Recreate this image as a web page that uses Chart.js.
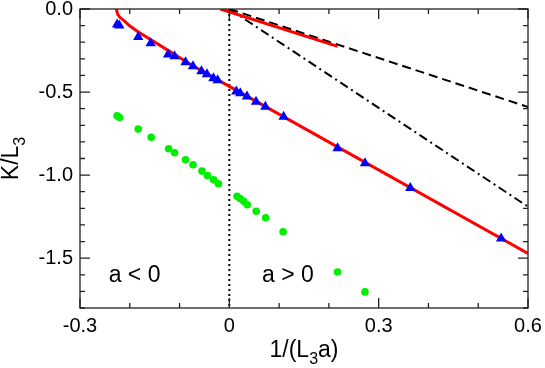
<!DOCTYPE html>
<html>
<head>
<meta charset="utf-8">
<script src="https://cdn.jsdelivr.net/npm/chart.js@4"></script>
<style>
html,body{margin:0;padding:0;background:#fff;}
canvas{display:block;}
</style>
</head>
<body>
<canvas id="c" width="545" height="368"></canvas>
<script>
// ---- data ----
const triX = [-0.2255,-0.221,-0.183,-0.158,-0.123,-0.110,-0.088,-0.073,-0.056,-0.045,-0.032,-0.0235,0.014,0.022,0.0355,0.0536,0.0723,0.109,0.2175,0.2725,0.3635,0.546];
const triY = [-0.094,-0.100,-0.168,-0.206,-0.274,-0.284,-0.320,-0.344,-0.374,-0.393,-0.417,-0.429,-0.496,-0.507,-0.527,-0.559,-0.589,-0.649,-0.838,-0.928,-1.078,-1.381];
const dotX = [-0.2255,-0.2205,-0.183,-0.157,-0.122,-0.110,-0.088,-0.073,-0.055,-0.044,-0.0315,-0.022,0.0155,0.022,0.029,0.036,0.054,0.073,0.108,0.2175,0.2725];
const dotY = [-0.643,-0.653,-0.723,-0.772,-0.841,-0.865,-0.908,-0.938,-0.976,-1.002,-1.028,-1.052,-1.128,-1.142,-1.158,-1.178,-1.218,-1.257,-1.341,-1.583,-1.703];
const curveX = [-0.227,-0.2245,-0.22,-0.21,-0.199,-0.182,-0.155,-0.12,-0.08,-0.04,0,0.6];
const curveY = [0.0,-0.03,-0.05,-0.075,-0.104,-0.14,-0.19,-0.255,-0.33,-0.398,-0.466,-1.471];
const shortX = [-0.018,0.2175];
const shortY = [0.0,-0.225];
const dashX = [0,0.6];
const dashY = [0,-0.59];
const dashDotX = [0,0.6];
const dashDotY = [0,-1.19];
const zeroX = [0,0];
const zeroY = [0,-1.8];
const xTickLabels = ['-0.3','0','0.3','0.6'];
const yTickLabels = ['0.0','-0.5','-1.0','-1.5'];
const annotations = [{text:'a < 0', x:-0.2424, y:-1.641},{text:'a > 0', x:0.0657, y:-1.641}];

const pts = (xs, ys) => xs.map((x,i)=>({x, y: ys[i]}));
const FONT = '"Liberation Sans", Arial, Helvetica, sans-serif';
Chart.defaults.font.family = FONT;
Chart.defaults.color = '#000';

const near = (v, step) => Math.abs(v/step - Math.round(v/step)) < 1e-6;

const framePlugin = {
  id: 'frame',
  afterDatasetsDraw(chart) {
    const {ctx, chartArea: a, scales: {x, y}} = chart;
    ctx.save();
    ctx.strokeStyle = '#222';
    ctx.lineWidth = 1.3;
    ctx.strokeRect(a.left, a.top, a.right - a.left, a.bottom - a.top);
    ctx.beginPath();
    x.ticks.forEach(t => {
      const px = x.getPixelForValue(t.value);
      const len = near(t.value, 0.3) ? 10 : 5;
      ctx.moveTo(px, a.bottom); ctx.lineTo(px, a.bottom - len);
      ctx.moveTo(px, a.top); ctx.lineTo(px, a.top + len);
    });
    y.ticks.forEach(t => {
      const py = y.getPixelForValue(t.value);
      const len = near(t.value, 0.5) ? 10 : 5;
      ctx.moveTo(a.left, py); ctx.lineTo(a.left + len, py);
      ctx.moveTo(a.right, py); ctx.lineTo(a.right - len, py);
    });
    ctx.stroke();
    // annotations
    ctx.fillStyle = '#000';
    ctx.font = '23px ' + FONT;
    ctx.textBaseline = 'alphabetic';
    ctx.textAlign = 'left';
    annotations.forEach(n => {
      ctx.fillText(n.text, x.getPixelForValue(n.x), y.getPixelForValue(n.y));
    });
    // axis titles with subscripts
    const drawSub = (parts, cx, base) => {
      let w = 0;
      parts.forEach(p => { ctx.font = (p.sub ? '16px ' : '23px ') + FONT; w += ctx.measureText(p.t).width; });
      let cur = cx - w / 2;
      parts.forEach(p => {
        ctx.font = (p.sub ? '16px ' : '23px ') + FONT;
        ctx.fillText(p.t, cur, base + (p.sub ? 7 : 0));
        cur += ctx.measureText(p.t).width;
      });
    };
    drawSub([{t:'1/(L'},{t:'3',sub:true},{t:'a)'}], (a.left + a.right) / 2, 357);
    ctx.save();
    ctx.translate(18, (a.top + a.bottom) / 2);
    ctx.rotate(-Math.PI / 2);
    drawSub([{t:'K/L'},{t:'3',sub:true}], 0, 0);
    ctx.restore();
    ctx.restore();
  }
};

const lineDs = (data, color, width, dash) => ({
  type: 'scatter', data, showLine: true, borderColor: color, backgroundColor: color,
  borderWidth: width, borderDash: dash, pointRadius: 0, pointHoverRadius: 0, tension: 0
});

new Chart(document.getElementById('c'), {
  type: 'scatter',
  data: {
    datasets: [
      { data: pts(triX, triY), pointStyle: 'triangle', pointRadius: 6, pointBorderWidth: 0,
        backgroundColor: '#0000ff', borderColor: '#0000ff', showLine: false },
      { data: pts(dotX, dotY), pointStyle: 'circle', pointRadius: 3.8, pointBorderWidth: 0,
        backgroundColor: '#00ee00', borderColor: '#00ee00', showLine: false },
      lineDs(pts(curveX, curveY), '#ff0000', 3, []),
      lineDs(pts(shortX, shortY), '#ff0000', 3, []),
      lineDs(pts(dashX, dashY), '#000', 2, [9, 5]),
      lineDs(pts(dashDotX, dashDotY), '#000', 2, [9, 4, 2, 4]),
      lineDs(pts(zeroX, zeroY), '#000', 2, [2, 3])
    ]
  },
  options: {
    responsive: false,
    animation: false,
    devicePixelRatio: 1,
    layout: { padding: { top: 9, right: 17, left: 0, bottom: 0 } },
    plugins: { legend: { display: false }, tooltip: { enabled: false } },
    events: [],
    scales: {
      x: {
        type: 'linear', min: -0.3, max: 0.6,
        grid: { display: false, drawTicks: false }, border: { display: false },
        ticks: {
          stepSize: 0.1, autoSkip: false, maxRotation: 0, padding: 6,
          font: { size: 20 },
          callback: v => near(v, 0.3) ? xTickLabels[Math.round((v + 0.3) / 0.3)] : ''
        },
        afterFit: s => { s.height = 60; s.paddingLeft = 0; s.paddingRight = 0; }
      },
      y: {
        type: 'linear', min: -1.8, max: 0,
        grid: { display: false, drawTicks: false }, border: { display: false },
        ticks: {
          stepSize: 0.1, autoSkip: false, padding: 7,
          font: { size: 20 },
          callback: v => (near(v, 0.5) && Math.round(-v / 0.5) < yTickLabels.length) ? yTickLabels[Math.round(-v / 0.5)] : ''
        },
        afterFit: s => { s.width = 80; s.paddingTop = 0; s.paddingBottom = 0; }
      }
    }
  },
  plugins: [framePlugin]
});
</script>
</body>
</html>
